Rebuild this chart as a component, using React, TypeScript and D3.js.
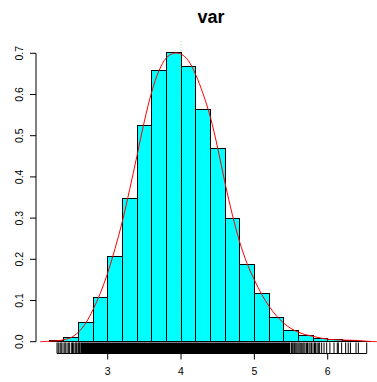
import React from 'react';
import * as d3 from 'd3';

// Histogram (density scale), bin width 0.2
const binStarts = [2.2, 2.4, 2.6, 2.8, 3.0, 3.2, 3.4, 3.6, 3.8, 4.0, 4.2, 4.4, 4.6, 4.8, 5.0, 5.2, 5.4, 5.6, 5.8, 6.0, 6.2, 6.4, 6.6, 6.8];
const binDensity = [0.002, 0.009, 0.046, 0.108, 0.206, 0.347, 0.524, 0.658, 0.703, 0.667, 0.563, 0.47, 0.298, 0.187, 0.117, 0.058, 0.027, 0.016, 0.008, 0.005, 0.002, 0.001, 0, 0];
const binWidth = 0.2;

// Kernel density estimate
const kdeX = [2.08, 2.2, 2.35, 2.44, 2.5, 2.6, 2.7, 2.8, 2.9, 3.0, 3.1, 3.2, 3.3, 3.4, 3.5, 3.6, 3.7, 3.8, 3.9, 4.0, 4.1, 4.2, 4.3, 4.4, 4.5, 4.6, 4.7, 4.8, 4.9, 5.0, 5.1, 5.2, 5.3, 5.4, 5.5, 5.6, 5.7, 5.8, 5.9, 6.0, 6.2, 6.4, 6.55, 6.68];
const kdeY = [0, 0.001, 0.003, 0.0065, 0.01, 0.023, 0.045, 0.078, 0.118, 0.167, 0.226, 0.292, 0.37, 0.452, 0.535, 0.606, 0.658, 0.689, 0.7, 0.698, 0.682, 0.648, 0.602, 0.545, 0.47, 0.385, 0.308, 0.242, 0.19, 0.15, 0.115, 0.086, 0.063, 0.045, 0.032, 0.023, 0.017, 0.013, 0.009, 0.006, 0.004, 0.003, 0.001, 0];

// Rug: sparse tails and the dense central run
const rugLeft = [2.309, 2.326, 2.35, 2.364, 2.377, 2.404, 2.418, 2.431, 2.458, 2.47, 2.482, 2.509, 2.52, 2.531, 2.554, 2.566, 2.577, 2.595, 2.605, 2.613, 2.622];
const rugCore = [2.63, 5.49];
const rugRight = [5.505, 5.515, 5.525, 5.54, 5.55, 5.565, 5.58, 5.595, 5.61, 5.625, 5.64, 5.66, 5.675, 5.69, 5.71, 5.725, 5.745, 5.76, 5.78, 5.8, 5.82, 5.835, 5.855, 5.872, 5.89, 5.918, 5.95, 5.986, 6.03, 6.086, 6.131, 6.145, 6.19, 6.245, 6.28, 6.31, 6.386, 6.418, 6.532];

const xTicks = [3, 4, 5, 6];
const yTicks = [0, 0.1, 0.2, 0.3, 0.4, 0.5, 0.6, 0.7];
const meanValue = 4.0;
const title = 'var';

const W = 377;
const H = 382;
const FONT = '"Liberation Sans", Arial, Helvetica, sans-serif';

export default function App() {
  const x = d3.scaleLinear().domain([3, 6]).range([107.7, 327.7]);
  const y = d3.scaleLinear().domain([0, 0.7]).range([341.7, 53.3]);

  const plotLeft = 36;
  const plotTop = 40.8;
  const axisY = 353.5;

  const kdePath = d3
    .line<number>()
    .x((_, i) => x(kdeX[i]))
    .y((d) => y(d))
    .curve(d3.curveCatmullRom.alpha(0.5))(kdeY) as string;

  const rugAll = [...rugLeft, ...rugRight];
  const rugTop = axisY - 11;

  return (
    <div style={{ position: 'absolute', left: 0, top: 0 }}>
      <svg width={W} height={H} style={{ display: 'block', background: '#fff' }}>
        <text x={211} y={23} textAnchor="middle" fontFamily={FONT} fontWeight="bold" fontSize={18}>
          {title}
        </text>

        {/* bars */}
        <g shapeRendering="crispEdges">
          {binStarts.map((b, i) => (
            <rect
              key={i}
              x={x(b)}
              y={y(binDensity[i])}
              width={x(b + binWidth) - x(b)}
              height={y(0) - y(binDensity[i])}
              fill="#00ffff"
              stroke="#000"
              strokeWidth={1}
            />
          ))}
        </g>

        {/* density curve */}
        <path d={kdePath} fill="none" stroke="#ff0000" strokeWidth={1} />

        {/* mean line */}
        <line
          x1={x(meanValue)}
          x2={x(meanValue)}
          y1={plotTop}
          y2={axisY}
          stroke="#00cc00"
          strokeOpacity={0.45}
          strokeWidth={1}
          strokeDasharray="1,2"
        />

        {/* rug */}
        <g stroke="#000" strokeWidth={1}>
          {rugAll.map((v, i) => (
            <line key={i} x1={x(v)} x2={x(v)} y1={rugTop} y2={axisY} />
          ))}
          <rect
            x={x(rugCore[0])}
            y={rugTop}
            width={x(rugCore[1]) - x(rugCore[0])}
            height={axisY - rugTop}
            fill="#000"
            stroke="none"
          />
          <line x1={x(rugLeft[0])} x2={x(rugRight[rugRight.length - 1])} y1={axisY} y2={axisY} />
        </g>

        {/* x axis */}
        <g stroke="#000" strokeWidth={1}>
          <line x1={x(xTicks[0])} x2={x(xTicks[xTicks.length - 1])} y1={axisY} y2={axisY} />
          {xTicks.map((t) => (
            <line key={t} x1={x(t)} x2={x(t)} y1={axisY} y2={axisY + 6} />
          ))}
        </g>
        {xTicks.map((t) => (
          <text key={t} x={x(t)} y={375} textAnchor="middle" fontFamily={FONT} fontSize={10.5}>
            {t}
          </text>
        ))}

        {/* y axis */}
        <g stroke="#000" strokeWidth={1}>
          <line x1={plotLeft} x2={plotLeft} y1={y(0)} y2={y(0.7)} />
          {yTicks.map((t) => (
            <line key={t} x1={plotLeft - 6} x2={plotLeft} y1={y(t)} y2={y(t)} />
          ))}
        </g>
        {yTicks.map((t) => (
          <text
            key={t}
            transform={`translate(22.7,${y(t)}) rotate(-90)`}
            textAnchor="middle"
            fontFamily={FONT}
            fontSize={10.5}
          >
            {t.toFixed(1)}
          </text>
        ))}
      </svg>
    </div>
  );
}
